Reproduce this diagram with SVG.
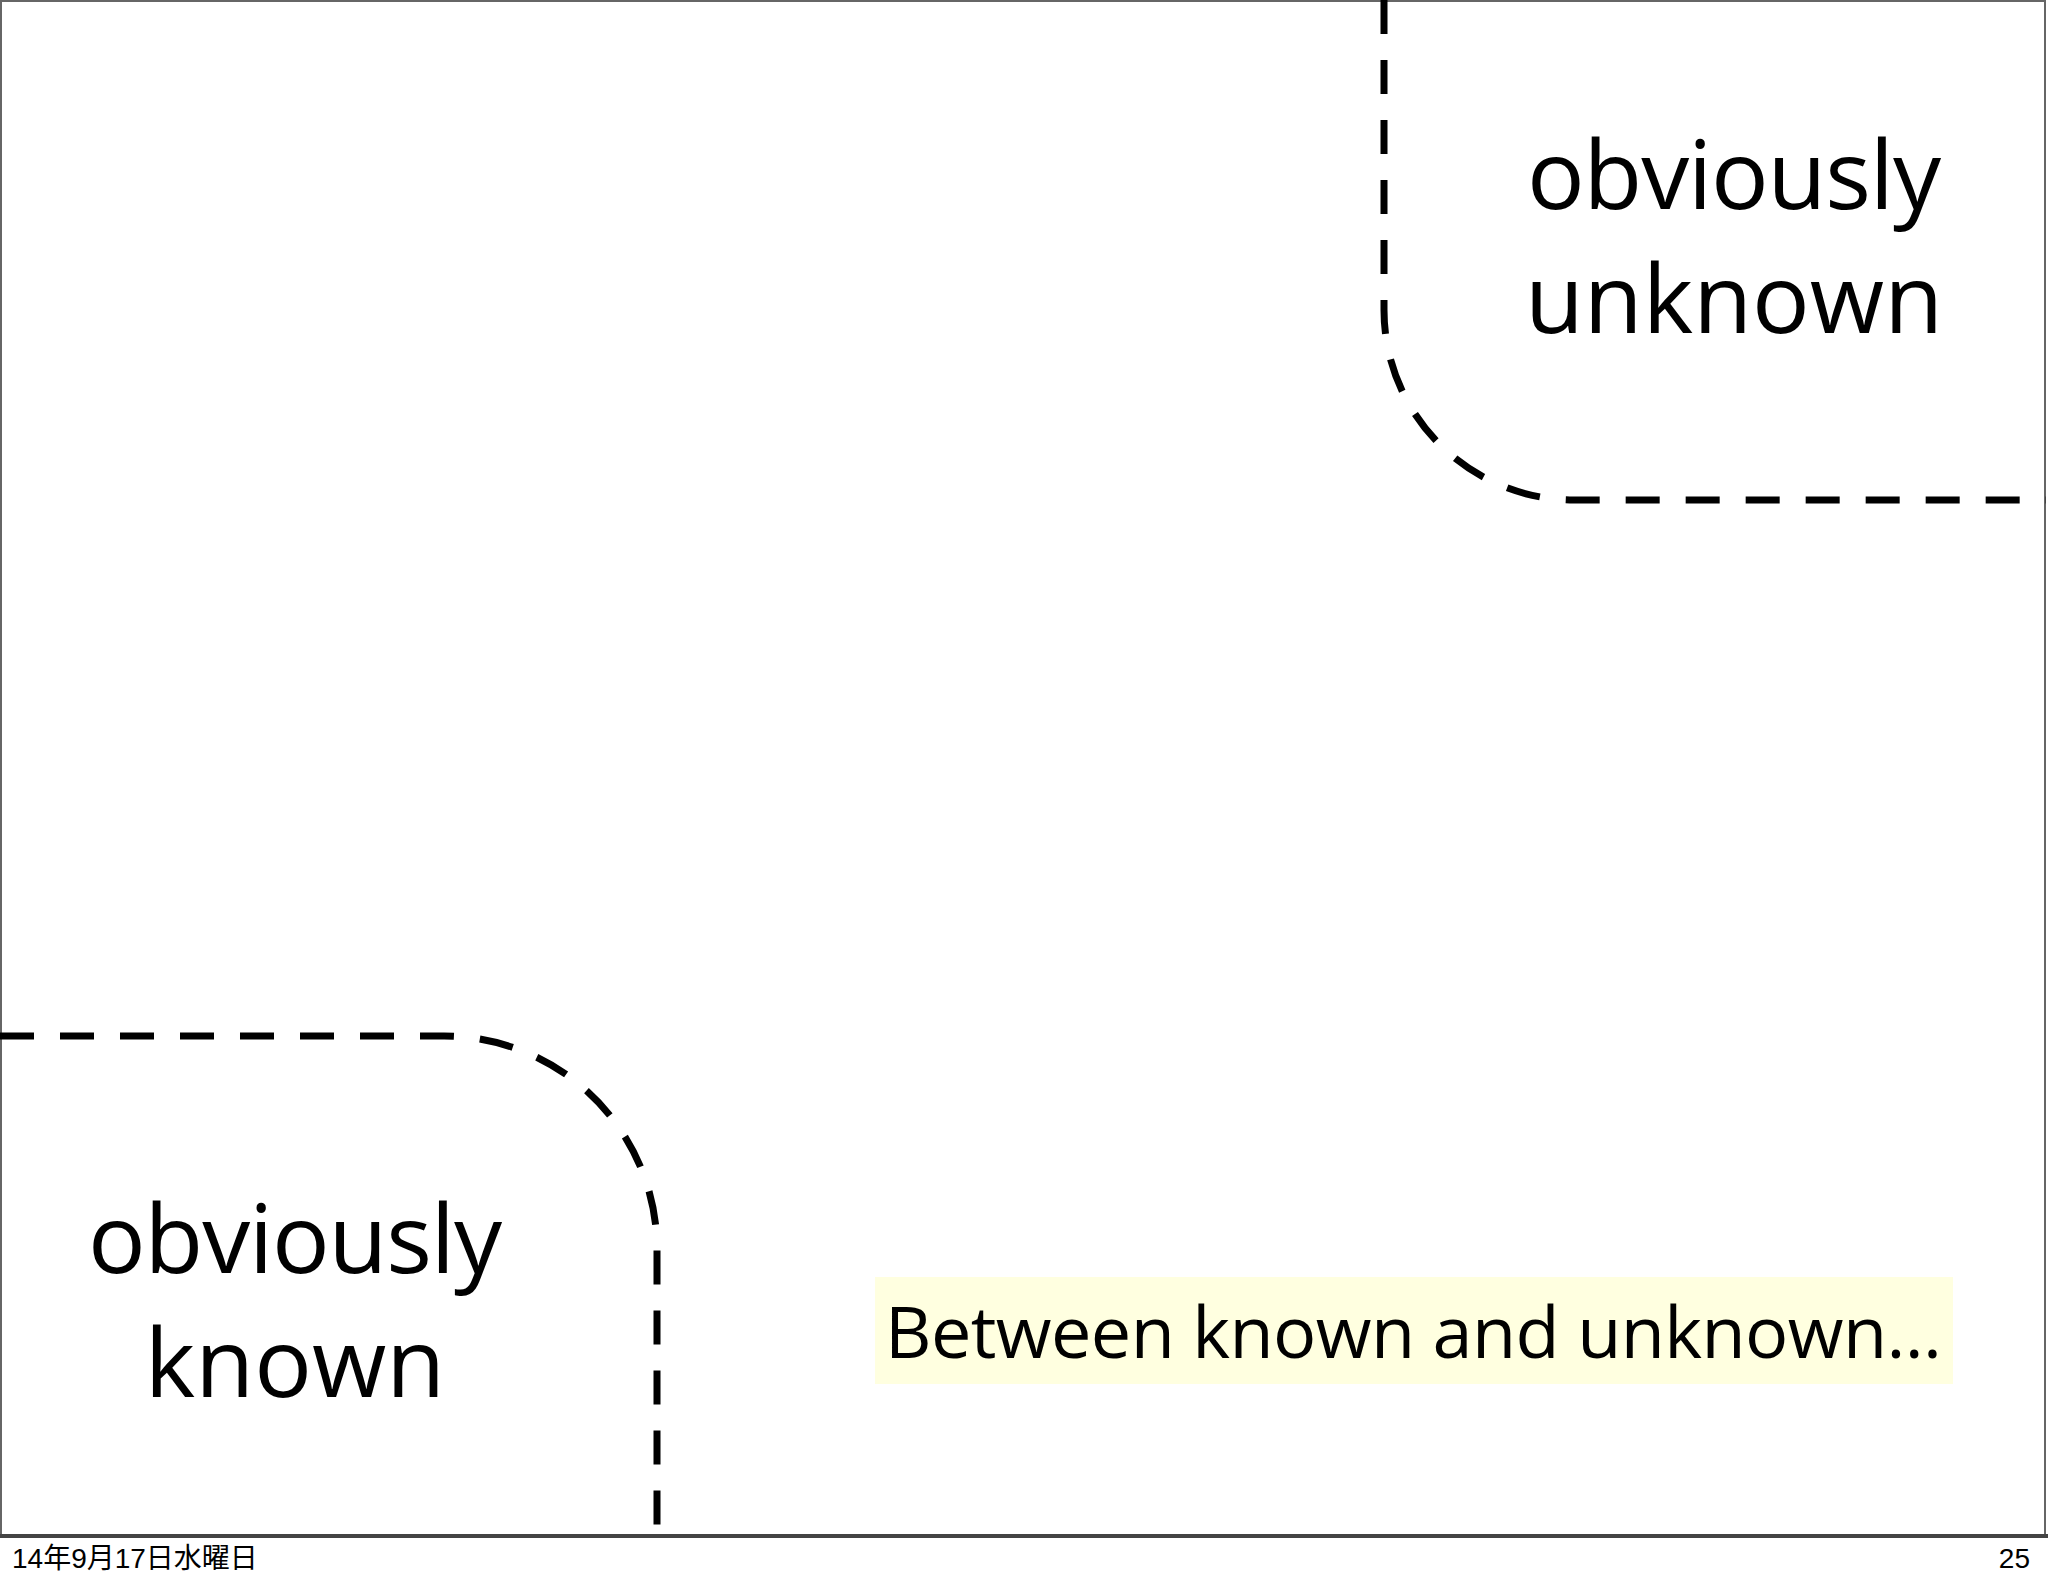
<svg xmlns="http://www.w3.org/2000/svg" width="2048" height="1587" viewBox="0 0 2048 1587">
<style>
.d{fill:none;stroke:#000;stroke-width:7;stroke-dasharray:34 26}
.big{font-family:"Open Sans","Liberation Sans",sans-serif;font-size:96px;fill:#000;text-anchor:middle}
.ft{font-family:"Liberation Sans","Noto Sans CJK JP",sans-serif;font-size:28px;fill:#000}
</style>
<rect width="2048" height="1587" fill="#fff"/>
<rect x="1" y="1" width="2044" height="1534" fill="none" stroke="#666" stroke-width="2"/>
<line x1="0" y1="1536" x2="2048" y2="1536" stroke="#444" stroke-width="4"/>
<g id="connectors">
<path class="d" d="M1384 0 V310 A190 190 0 0 0 1574 500 H2046"/>
<path class="d" d="M0 1036 H444 A213 213 0 0 1 657 1249 V1535"/>
</g>
<g id="unknown"><text class="big" x="1734" y="209" textLength="414">obviously</text><text class="big" x="1734" y="333">unknown</text></g>
<g id="known"><text class="big" x="295" y="1273" textLength="414">obviously</text><text class="big" x="295" y="1397">known</text></g>
<g id="between"><rect x="875" y="1277" width="1078" height="107" fill="#ffffe0"/>
<text x="885" y="1358" font-family="Open Sans,Liberation Sans,sans-serif" font-size="72" textLength="1057">Between known and unknown...</text></g>
<text class="ft" x="12" y="1568">14年9月17日水曜日</text>
<text class="ft" x="2030" y="1568" text-anchor="end">25</text>
</svg>
